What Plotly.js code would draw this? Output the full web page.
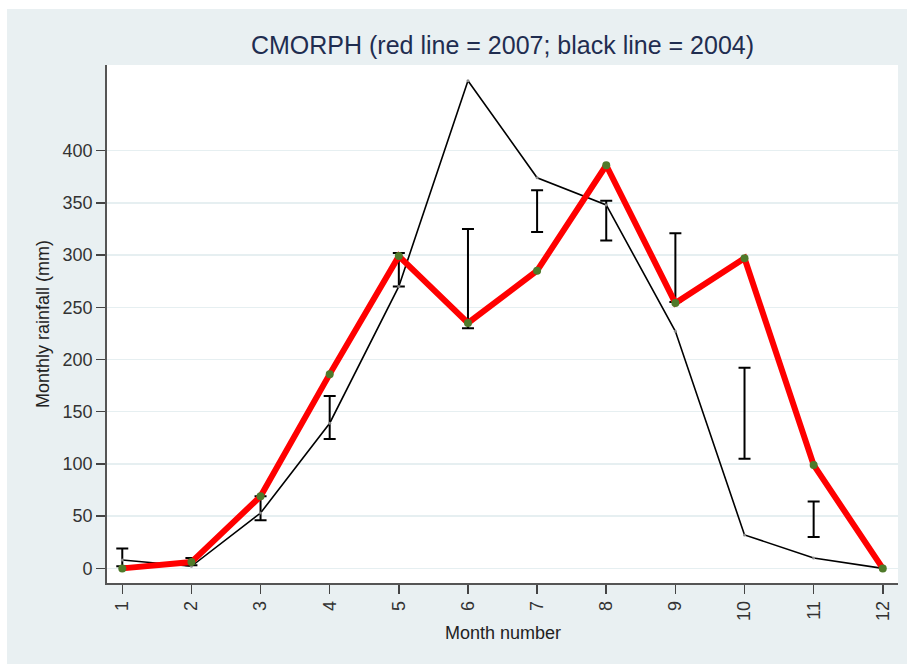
<!DOCTYPE html>
<html>
<head>
<meta charset="utf-8">
<script src="https://cdn.plot.ly/plotly-3.0.1.min.js"></script>
<style>
  html, body { margin: 0; padding: 0; background: #ffffff; }
  #chart { position: absolute; left: 7px; top: 9px; width: 900px; height: 655px; }
</style>
</head>
<body>
<div id="chart"></div>
<script>
// Month numbers
const months = [1, 2, 3, 4, 5, 6, 7, 8, 9, 10, 11, 12];
// Red line: 2007 monthly rainfall (mm)
const rain2007 = [0, 6, 69, 186, 299, 235, 285, 386, 254, 297, 99, 0];
// Black line: 2004 monthly rainfall (mm)
const rain2004 = [8, 2, 53, 139, 270, 467, 374, 348, 227, 32, 10, 0];
// Range bars (low / high)
const barMonths = [1, 2, 3, 4, 5, 6, 7, 8, 9, 10, 11];
const barLow  = [2, 3, 46, 124, 270, 230, 322, 314, 255, 105, 30];
const barHigh = [19, 10, 69, 165, 302, 325, 362, 352, 321, 192, 64];
// Axis ticks
const yTicks = [0, 50, 100, 150, 200, 250, 300, 350, 400];

const FONT = '"Liberation Sans", Arial, "DejaVu Sans", sans-serif';

const barMid = barLow.map((lo, i) => (lo + barHigh[i]) / 2);
const barHalf = barLow.map((lo, i) => (barHigh[i] - lo) / 2);

const traces = [
  {
    x: barMonths, y: barMid, type: 'scatter', mode: 'markers',
    marker: { size: 1, opacity: 0 },
    error_y: { type: 'data', array: barHalf, symmetric: true, color: '#000000', thickness: 2, width: 6 },
    hoverinfo: 'skip', showlegend: false
  },
  {
    x: months, y: rain2004, type: 'scatter', mode: 'lines+markers',
    line: { color: '#000000', width: 1.6 },
    marker: { color: '#8a8a8a', size: 3 },
    showlegend: false
  },
  {
    x: months, y: rain2007, type: 'scatter', mode: 'lines+markers',
    line: { color: '#ff0000', width: 6 },
    marker: { color: '#4f7a2a', size: 8 },
    showlegend: false
  }
];

const layout = {
  width: 900, height: 655,
  paper_bgcolor: '#e9f0f2',
  plot_bgcolor: '#ffffff',
  margin: { l: 100, r: 9, t: 56, b: 81, pad: 0 },
  font: { family: FONT, size: 18, color: '#333333' },
  title: {
    text: 'CMORPH (red line = 2007; black line = 2004)',
    font: { family: FONT, size: 25, color: '#1f2d50' },
    x: 0.5, xref: 'paper', xanchor: 'center',
    y: 1 - 36 / 655, yref: 'container', yanchor: 'middle'
  },
  xaxis: {
    range: [0.779, 12.22],
    tickmode: 'array', tickvals: months, ticktext: months.map(String),
    tickangle: -90,
    ticks: 'outside', ticklen: 9, tickwidth: 1.5, tickcolor: '#444444',
    showline: true, linecolor: '#555555', linewidth: 1.8,
    showgrid: false, zeroline: false,
    tickfont: { family: FONT, size: 18, color: '#333333' },
    fixedrange: true
  },
  yaxis: {
    range: [-14, 482],
    tickmode: 'array', tickvals: yTicks, ticktext: yTicks.map(String),
    ticks: 'outside', ticklen: 9, tickwidth: 1.5, tickcolor: '#444444',
    showline: true, linecolor: '#555555', linewidth: 1.8,
    showgrid: true, gridcolor: '#e6eff1', gridwidth: 1.5,
    zeroline: false,
    tickfont: { family: FONT, size: 18, color: '#333333' },
    fixedrange: true
  },
  annotations: [
    {
      text: 'Month number', xref: 'paper', yref: 'paper',
      x: 0.5, y: -(633 - 9 - 574) / 518, xanchor: 'center', yanchor: 'middle',
      showarrow: false, font: { family: FONT, size: 18, color: '#222222' }
    },
    {
      text: 'Monthly rainfall (mm)', xref: 'paper', yref: 'paper',
      x: -(100 - 36) / 791, y: 0.5, xanchor: 'center', yanchor: 'middle',
      textangle: -90,
      showarrow: false, font: { family: FONT, size: 18, color: '#222222' }
    }
  ]
};

Plotly.newPlot('chart', traces, layout, { displayModeBar: false, staticPlot: true });
</script>
</body>
</html>
